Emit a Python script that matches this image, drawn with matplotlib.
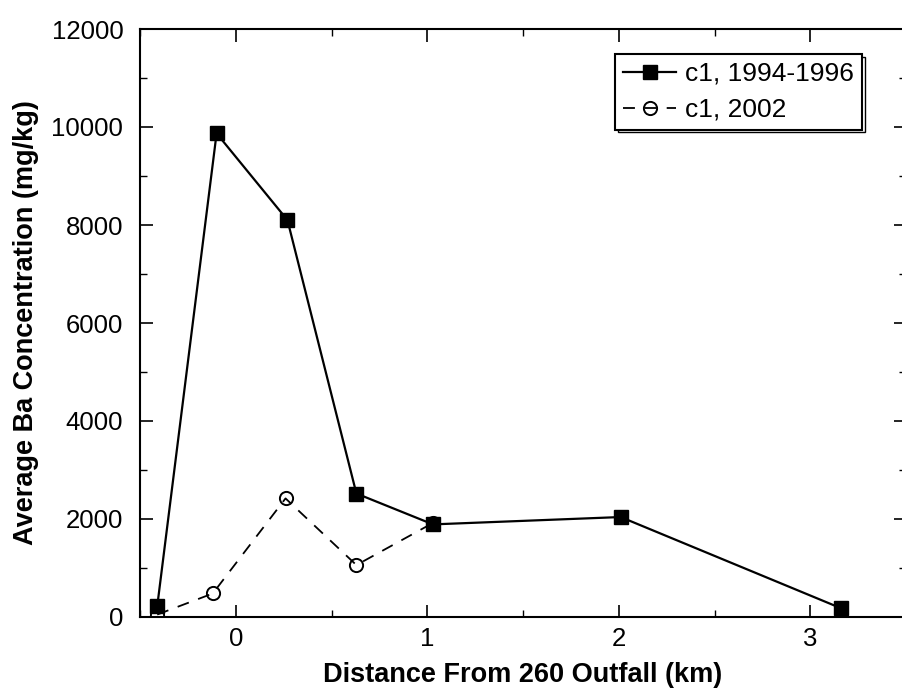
import matplotlib
matplotlib.use("Agg")
import matplotlib.pyplot as plt
from matplotlib.ticker import MultipleLocator

# Data
x_9496 = [-0.41, -0.10, 0.27, 0.63, 1.03, 2.01, 3.16]
y_9496 = [220, 9870, 8100, 2520, 1890, 2040, 180]
x_2002 = [-0.41, -0.12, 0.26, 0.63, 1.03]
y_2002 = [50, 480, 2420, 1060, 1920]
label_9496 = "c1, 1994-1996"
label_2002 = "c1, 2002"
xlabel = "Distance From 260 Outfall (km)"
ylabel = "Average Ba Concentration (mg/kg)"

plt.rcParams['font.family'] = ['Liberation Sans', 'DejaVu Sans']

W, H = 902, 690
fig = plt.figure(figsize=(W / 100, H / 100), dpi=100)
left, right, top, bottom = 140, 906, 29, 617
ax = fig.add_axes([left / W, (H - bottom) / H, (right - left) / W, (bottom - top) / H])

ax.plot(x_9496, y_9496, color='black', lw=1.6, marker='s', markersize=10,
        markerfacecolor='black', markeredgecolor='black', label=label_9496, zorder=3)
ax.plot(x_2002, y_2002, color='black', lw=1.3, ls=(0, (6.6, 5.5)), marker='o', markersize=9.5,
        markerfacecolor='none', markeredgecolor='black', markeredgewidth=1.4,
        label=label_2002, zorder=2)

ax.set_xlim(-0.5, 3.5)
ax.set_ylim(0, 12000)
ax.xaxis.set_major_locator(MultipleLocator(1))
ax.xaxis.set_minor_locator(MultipleLocator(0.5))
ax.yaxis.set_major_locator(MultipleLocator(2000))
ax.yaxis.set_minor_locator(MultipleLocator(1000))
ax.tick_params(which='both', direction='in', top=True, right=True, labelsize=18.5)
ax.tick_params(axis='x', pad=7)
ax.tick_params(axis='y', pad=12)
ax.tick_params(which='major', length=9, width=1.2)
ax.tick_params(which='minor', length=5, width=1.0)
for s in ax.spines.values():
    s.set_linewidth(1.5)

ax.set_xlabel(xlabel, fontsize=19.5, fontweight='bold', labelpad=8)
ax.set_ylabel(ylabel, fontsize=19.5, fontweight='bold', labelpad=9)

leg = ax.legend(loc='upper right',
                bbox_to_anchor=((862 - left) / (right - left), (bottom - 54) / (bottom - top)),
                fontsize=19, frameon=True, fancybox=False,
                shadow={'facecolor': 'white', 'edgecolor': 'black', 'linewidth': 1.0, 'alpha': 1},
                handlelength=2.0, handletextpad=0.35, borderpad=0.3, labelspacing=0.45,
                borderaxespad=0)
leg.get_frame().set_edgecolor('black')
leg.get_frame().set_linewidth(1.5)

fig.savefig("out.png", dpi=100)
